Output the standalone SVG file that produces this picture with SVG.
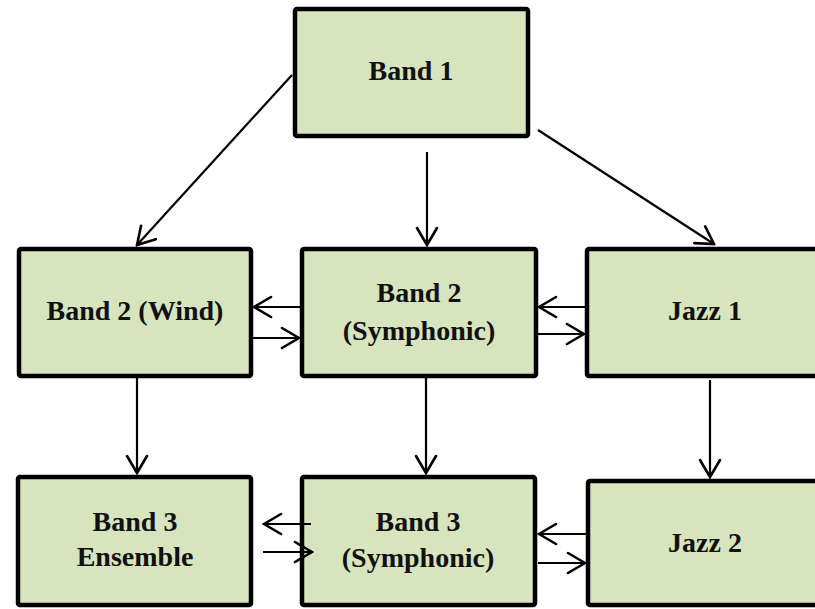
<svg xmlns="http://www.w3.org/2000/svg" width="815" height="609" viewBox="0 0 815 609">
<style>
.box{fill:#D7E4BD;stroke:#000;stroke-width:4.5;stroke-linejoin:round}
.lbl{font-family:"Liberation Serif","Times New Roman",serif;font-weight:bold;font-size:28px;fill:#111;text-anchor:middle}
.c line{stroke:#000;stroke-width:2.2;fill:none;marker-end:url(#ah)}
</style>
<defs>
<marker id="ah" viewBox="-20 -12 22 24" refX="0" refY="0" markerWidth="22" markerHeight="24" markerUnits="userSpaceOnUse" orient="auto">
<path d="M-17,-10 L0,0 L-17,10" fill="none" stroke="#000" stroke-width="2.6" stroke-linecap="round" stroke-linejoin="miter"/>
</marker>
</defs>
<rect width="815" height="609" fill="#fff"/>
<g id="band1"><rect class="box" x="295" y="9" width="233" height="127" rx="2"/><text class="lbl" x="411" y="80">Band 1</text></g>
<g id="band2wind"><rect class="box" x="19" y="249" width="232" height="127" rx="2"/><text class="lbl" x="135" y="320">Band 2 (Wind)</text></g>
<g id="band2sym"><rect class="box" x="302" y="249" width="234" height="127" rx="2"/><text class="lbl" x="419" y="302">Band 2</text><text class="lbl" x="419" y="340">(Symphonic)</text></g>
<g id="jazz1"><rect class="box" x="587" y="249" width="240" height="127" rx="2"/><text class="lbl" x="705" y="320">Jazz 1</text></g>
<g id="band3ens"><rect class="box" x="18" y="477" width="233" height="128" rx="2"/><text class="lbl" x="135" y="531">Band 3</text><text class="lbl" x="135" y="566">Ensemble</text></g>
<g id="band3sym"><rect class="box" x="302" y="477" width="233" height="128" rx="2"/><text class="lbl" x="418" y="531">Band 3</text><text class="lbl" x="418" y="567">(Symphonic)</text></g>
<g id="jazz2"><rect class="box" x="588" y="481" width="240" height="124" rx="2"/><text class="lbl" x="705" y="552">Jazz 2</text></g>
<g class="c" id="connectors">
<line x1="292" y1="75" x2="137" y2="245"/>
<line x1="427" y1="152" x2="427" y2="245"/>
<line x1="538" y1="130" x2="714" y2="244"/>
<line x1="300" y1="307" x2="254" y2="307"/>
<line x1="253" y1="338" x2="299" y2="338"/>
<line x1="585" y1="307" x2="539" y2="307"/>
<line x1="538" y1="334" x2="584" y2="334"/>
<line x1="137" y1="378" x2="137" y2="473"/>
<line x1="426" y1="378" x2="426" y2="473"/>
<line x1="710" y1="380" x2="710" y2="477"/>
<line x1="311" y1="524" x2="264" y2="524"/>
<line x1="263" y1="552" x2="312" y2="552"/>
<line x1="586" y1="534" x2="539" y2="534"/>
<line x1="538" y1="563" x2="585" y2="563"/>
</g>
</svg>
